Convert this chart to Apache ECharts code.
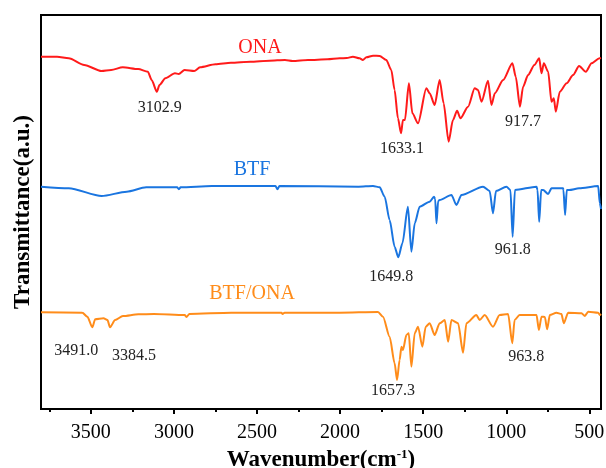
<!DOCTYPE html>
<html>
<head>
<meta charset="utf-8">
<script src="https://cdn.jsdelivr.net/npm/echarts@6/dist/echarts.min.js"></script>
<style>html,body{margin:0;padding:0;background:#fff}#c{width:606px;height:468px}</style>
</head>
<body>
<div id="c"></div>
<script>
// ---- data (wavenumber in cm-1, offset transmittance in a.u.) ----
const onaWavenumber = [3800,3703,3633,3540,3436,3378,3308,3215,3157,3134,3102.9,3087,3052,2994,2971,2936,2878,2843,2750,2657,2541,2425,2332,2286,2193,2076,2003,1960,1923,1883,1863,1842,1802,1762,1722,1692,1672,1652,1633.1,1622,1610,1586,1565,1531,1481,1461,1431,1401,1377,1347,1321,1296,1276,1230,1190,1170,1149,1110,1089,1069,1019,963,943,917.7,899,869,831,802,788,774,748,728,714,702,678,637,598,562,521,487,439,430];
const onaSignal = [352.3,352.3,350.7,344,338,339,341.7,340,337.3,329,317.3,324,330.7,335.7,335,339,338,341.7,344.7,346.3,347.3,348.3,349,348,349,349.7,350.7,351,352.3,350.7,349,351.7,353.3,353,349,339,319,290.7,275.7,289,289,325.7,295.7,285.7,320.7,315.7,304,329,305.7,267.3,289,298.3,290.7,302.3,320.7,319,307.3,328.3,304,315.7,329,345.7,332.3,302.3,322.3,334,344,350.7,335.7,345.7,337.3,307.3,310.7,297.3,317.3,325.7,334,343,337.3,345.7,350.7,351];

const btfWavenumber = [3800,3633,3435,3284,3167,2981,2970,2960,2772,2389,2377,2365,1889,1802,1762,1732,1702,1672,1649.8,1625,1592,1571,1551,1521,1461,1435,1428,1420,1410,1401,1330,1300,1270,1140,1100,1080,1062,999,975,961.8,948,818,812,802,790,778,748,728,658,656,646,636,622,562,447,437,430];
const btfSignal = [222.3,220.7,213,217.3,221.7,221.7,219.7,221.7,223,223,219.7,223,222.3,223,221.7,212.3,189,162.3,151.7,165.7,202.3,157.3,185.7,202.3,207.3,212.3,210,185.7,208,209,214,204,214,222.3,218,195.7,218,222.3,219,172.3,219,222.3,219,187.3,219,219,215,220.7,220.7,219,194,219,219,220.7,223,205.7,200];

const mixWavenumber = [3800,3551,3521,3491,3474,3424,3400,3384.5,3354,3307,3214,3121,2935,2925,2907,2655,2353,2346,2334,2003,1772,1742,1702,1672,1657.3,1642,1631,1622,1601,1587,1571,1551,1531,1505,1485,1461,1431,1401,1370,1350,1330,1290,1260,1240,1180,1160,1130,1080,1040,989,963.8,950,920,818,804,788,768,754,738,698,668,654,628,547,527,507,447,437,430];
const mixSignal = [96.7,96.3,92.3,81.7,89.7,90.7,89,81.7,89,93,94.7,95,94,92,95,96.3,96.3,95,96.3,96.3,97,92.3,72.3,45.7,29,49,62.3,59,74,75.7,42.3,75.7,82.3,62.3,82.3,85.7,74,85.7,89,67.3,89,85.7,56.3,85.7,94,89,94,82.3,94,95,65.7,89,94,94,79,92.3,92,79.7,94,96.3,95,85.7,96.3,95.7,93,97.3,96.3,94,95];

const seriesNames = ['ONA', 'BTF', 'BTF/ONA'];
const onaPeaks = [3102.9, 1633.1, 917.7];
const btfPeaks = [1649.8, 961.8];
const mixPeaks = [3491.0, 3384.5, 1657.3, 963.8];

const xTickLabels = [3500, 3000, 2500, 2000, 1500, 1000, 500];
const xMinorTicks = [3750, 3250, 2750, 2250, 1750, 1250, 750];

// ---- styling / placement (kept apart from the data) ----
const colors = ['#ff1a1a', '#1a75e0', '#ff8c1a'];
const peakOffsets = {
  '3102.9': [3, 16], '1633.1': [1, 15], '917.7': [3, 15],
  '1649.8': [-7, 19], '961.8': [0, 13],
  '3491.0': [-16, 23], '3384.5': [24, 28], '1657.3': [-4, 11], '963.8': [14, 13]
};
const nameAnchors = [[2482, 361], [2530, 239], [2530, 115]];
const serif = '"Times New Roman", "Liberation Serif", "DejaVu Serif", serif';

function pairs(xs, ys) { return xs.map((x, i) => [x, ys[i]]); }
function valueAt(xs, ys, w) { const i = xs.indexOf(w); return ys[i]; }

function buildSeries(idx, xs, ys, peaks) {
  const marks = peaks.map(p => {
    const key = p.toFixed(1);
    return {
      coord: [p, valueAt(xs, ys, p)],
      symbolSize: 0,
      label: { show: true, formatter: key, offset: peakOffsets[key], color: '#222', fontSize: 16, fontFamily: serif }
    };
  });
  marks.push({
    coord: nameAnchors[idx], symbolSize: 0,
    label: { show: true, formatter: seriesNames[idx], color: colors[idx], fontSize: 20, fontFamily: serif }
  });
  return {
    name: seriesNames[idx], type: 'line', xAxisIndex: 0, yAxisIndex: 0,
    data: pairs(xs, ys), showSymbol: false, smooth: 0.25, smoothMonotone: 'x',
    lineStyle: { color: colors[idx], width: 2 }, itemStyle: { color: colors[idx] },
    silent: true, animation: false,
    markPoint: { symbol: 'circle', symbolSize: 0, silent: true, animation: false, data: marks }
  };
}

const chart = echarts.init(document.getElementById('c'), null, { renderer: 'canvas' });
chart.setOption({
  animation: false,
  backgroundColor: '#fff',
  grid: { left: 41, right: 5, top: 15, bottom: 59, containLabel: false, outerBoundsMode: 'none',
          show: true, borderColor: '#000', borderWidth: 2, backgroundColor: 'transparent' },
  xAxis: [{
    type: 'value', inverse: true, min: 430, max: 3800, position: 'bottom',
    splitLine: { show: false },
    axisLine: { show: true, lineStyle: { color: '#000', width: 2 } },
    axisTick: { show: true, customValues: xTickLabels, length: 5, lineStyle: { color: '#000', width: 2 } },
    axisLabel: { customValues: xTickLabels, formatter: v => String(v), color: '#000', fontSize: 20, margin: 14, fontFamily: serif, hideOverlap: false },
    name: '{a|Wavenumber(cm}{s|-1}{a|)}', nameLocation: 'middle', nameGap: 37,
    nameTextStyle: {
      fontFamily: serif,
      rich: {
        a: { fontSize: 23, fontWeight: 'bold', color: '#000', fontFamily: serif },
        s: { fontSize: 13, fontWeight: 'bold', color: '#000', fontFamily: serif, padding: [0, 0, 12, 0] }
      }
    }
  }, {
    type: 'value', inverse: true, min: 430, max: 3800, position: 'bottom',
    splitLine: { show: false },
    axisLine: { show: false },
    axisTick: { show: true, customValues: xMinorTicks, length: 3, lineStyle: { color: '#000', width: 2 } },
    axisLabel: { show: false }
  }],
  yAxis: {
    type: 'value', min: 0, max: 394,
    axisLine: { show: false }, axisTick: { show: false }, axisLabel: { show: false }, splitLine: { show: false },
    name: 'Transmittance(a.u.)', nameLocation: 'middle', nameGap: 6,
    nameTextStyle: { fontSize: 23, fontWeight: 'bold', color: '#000', fontFamily: serif }
  },
  series: [
    buildSeries(0, onaWavenumber, onaSignal, onaPeaks),
    buildSeries(1, btfWavenumber, btfSignal, btfPeaks),
    buildSeries(2, mixWavenumber, mixSignal, mixPeaks)
  ]
});
</script>
</body>
</html>
